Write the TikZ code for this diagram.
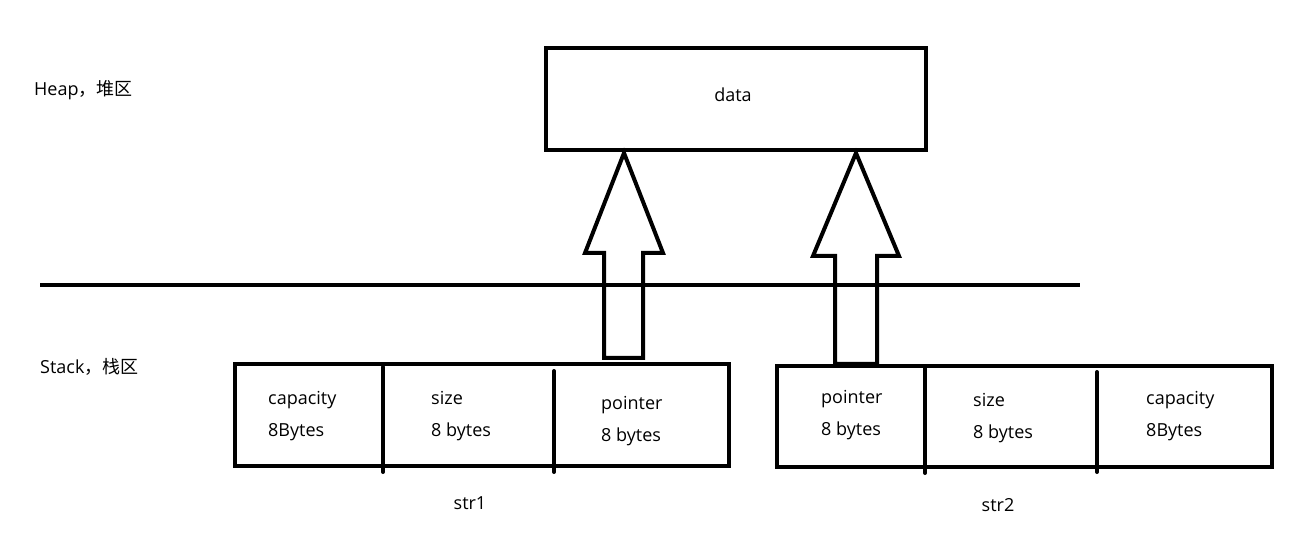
\documentclass[tikz,border=0pt]{standalone}
\usepackage{fontspec}
\setmainfont{Open Sans}
\newfontfamily\cjk{Noto Sans CJK SC}
\usetikzlibrary{positioning}

\begin{document}
\begin{tikzpicture}[x=1pt,y=-1pt]
	\tikzstyle{block}=[draw,rectangle,line width=4pt,inner sep=0pt]
	\tikzstyle{divider}=[line width=4pt,line cap=round]
	\tikzstyle{bigarrow}=[line width=4pt,line join=miter]
	\tikzstyle{cell}=[anchor=west,align=left,inner sep=0pt,font=\fontsize{18}{32}\selectfont]
	\useasboundingbox (0,0) rectangle (1291,545);
	
	%
	% heap and stack
	%
	\node [block,minimum width=380pt,minimum height=102pt] (heap) at (736,99) {};
	\node [cell,anchor=center] (data) at (733,95) {data};
	\node [cell] (heap-label) at (34,90) {Heap{\cjk ，堆区}};
	\node [cell] (stack-label) at (40,367) {Stack{\cjk ，栈区}};
	
	\coordinate (line-l) at (40,285);
	\coordinate (line-r) at (1080,285);
	\draw [line width=4pt] (line-l) -- (line-r);
	
	%
	% str1
	%
	\node [block,minimum width=494pt,minimum height=102pt] (str1) at (482,415) {};
	\draw [divider] (383,367) -- (383,472);
	\draw [divider] (554,371) -- (554,472);
	\node [cell] (cap1) at (268,416) {capacity\\8Bytes};
	\node [cell] (size1) at (431,416) {size\\8 bytes};
	\node [cell] (ptr1) at (601,421) {pointer\\8 bytes};
	\node [cell,anchor=center] (name1) at (470,503) {str1};
	
	%
	% str2
	%
	\node [block,minimum width=495pt,minimum height=101pt] (str2) at (1024.5,416.5) {};
	\draw [divider] (925,367) -- (925,473);
	\draw [divider] (1097,372) -- (1097,472);
	\node [cell] (ptr2) at (821,415) {pointer\\8 bytes};
	\node [cell] (size2) at (973,418) {size\\8 bytes};
	\node [cell] (cap2) at (1146,416) {capacity\\8Bytes};
	\node [cell,anchor=center] (name2) at (998,505) {str2};
	
	%
	% pointers to heap
	%
	\draw [bigarrow] (624,153) -- (663,253) -- (643,253) -- (643,358)
		-- (604,358) -- (604,253) -- (585,253) -- cycle;
	\draw [bigarrow] (856,153) -- (899,256) -- (877,256) -- (877,364)
		-- (835,364) -- (835,256) -- (813,256) -- cycle;
	
\end{tikzpicture}
\end{document}
